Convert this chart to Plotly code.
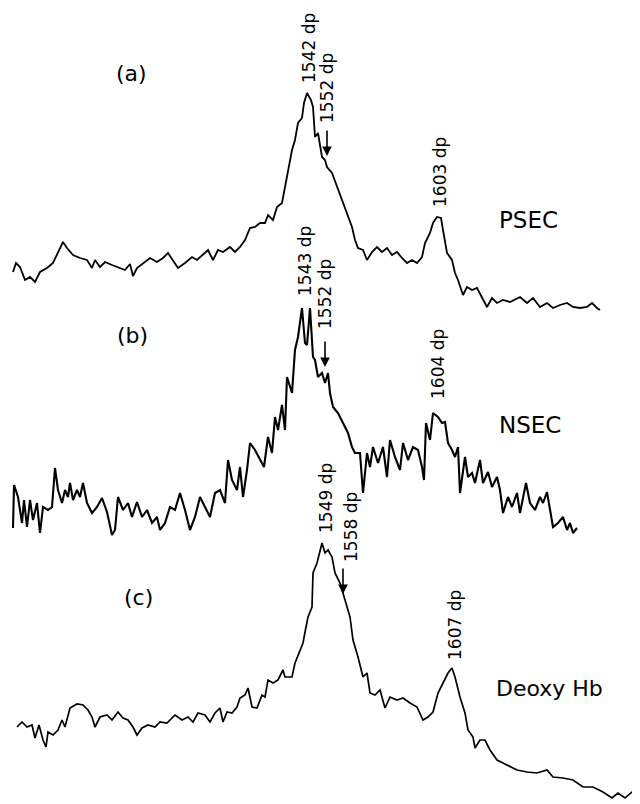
import plotly.graph_objects as go

# Trace (a) PSEC: horizontal position, vertical position (page units, top = 0)
a_x = [13,16,20,25,30,35,40,47,53,58,63,67,73,80,87,92,95,100,105,112,118,125,130,133,137,143,150,157,163,168,173,178,185,192,197,203,208,213,218,223,230,235,240,245,250,255,260,265,268,273,277,282,285,288,292,295,298,302,304,307,311,313,315,318,322,325,327,332,337,342,347,352,355,358,363,367,372,377,382,387,392,397,402,407,412,417,422,425,430,433,437,441,443,447,452,455,458,463,467,472,477,482,487,492,497,503,510,520,527,533,540,547,553,560,567,573,580,587,592,597,600]
a_y = [272,263,267,280,277,282,272,268,263,252,242,248,255,258,260,268,260,267,262,265,267,270,264,276,268,263,258,262,258,253,260,268,263,257,260,255,250,260,250,252,247,252,247,240,228,227,223,223,215,220,207,203,187,173,150,140,123,118,103,93,100,107,137,133,157,160,167,173,187,200,213,227,240,248,250,260,252,247,252,248,255,252,258,263,260,263,257,243,233,223,217,218,230,253,260,273,280,295,287,290,288,298,307,298,303,300,302,297,303,298,307,303,308,305,303,307,308,307,303,308,310]

# Trace (b) NSEC
b_x = [13,14,18,22,24,27,30,33,37,40,43,48,52,55,58,62,65,68,70,73,77,80,83,87,92,97,102,107,112,115,118,123,128,132,137,142,147,152,157,160,165,170,175,180,185,190,195,200,205,210,215,220,225,228,232,237,240,243,247,250,255,260,264,268,272,275,278,282,285,287,292,295,298,302,305,307,310,313,315,318,322,325,328,330,333,338,343,348,352,355,360,363,367,370,373,378,383,387,390,395,400,403,408,413,418,422,424,426,430,433,438,442,445,448,452,455,458,460,465,468,472,475,480,483,488,492,497,500,503,508,512,517,520,526,530,535,540,543,547,550,553,558,563,567,570,573,577]
b_y = [528,485,497,523,500,527,500,520,503,533,507,510,507,468,490,503,490,497,483,500,490,497,483,503,513,507,498,512,535,530,497,510,503,517,502,517,510,523,517,530,523,507,510,493,510,530,517,497,507,517,493,490,503,460,480,490,467,497,470,443,450,460,467,437,453,417,430,405,430,377,393,350,337,308,343,345,308,357,360,377,373,383,373,393,407,413,423,433,447,453,453,493,453,467,447,463,447,477,440,457,470,443,460,447,450,467,480,423,440,413,417,423,422,443,450,457,447,493,457,477,473,483,460,483,472,487,477,490,513,497,507,493,513,483,503,510,497,503,492,510,527,523,517,530,523,533,528]

# Trace (c) Deoxy Hb
c_x = [17,22,27,32,35,39,43,46,48,53,58,62,65,70,77,83,88,92,95,100,107,112,118,123,128,133,137,142,148,155,160,167,175,182,188,193,198,205,210,215,220,223,227,232,237,240,245,248,252,257,262,265,268,273,278,283,285,292,295,300,303,306,308,312,313,317,322,325,328,332,335,340,345,350,353,358,363,367,370,375,380,385,390,397,403,410,417,423,428,433,438,443,448,452,455,460,465,468,473,475,480,485,490,497,503,510,517,527,537,547,553,563,573,583,593,603,612,618,625,632,637]
c_y = [727,722,727,725,738,725,740,747,732,735,730,720,727,708,704,705,710,717,727,717,715,720,712,718,720,727,735,728,725,727,722,723,715,720,717,722,713,715,722,713,708,722,712,713,707,698,695,688,707,708,695,697,680,683,680,670,677,677,663,650,643,627,617,607,573,563,543,553,550,557,573,583,600,617,640,657,677,673,693,695,690,708,697,700,698,703,707,720,717,712,693,683,673,668,677,697,713,730,737,748,740,740,750,760,763,767,770,772,773,770,777,778,780,787,787,792,798,793,798,792,800]

# Vertical band labels: text, x, y (centre)
band_text = ["1542 dp", "1552 dp", "1603 dp", "1543 dp", "1552 dp", "1604 dp", "1549 dp", "1558 dp", "1607 dp"]
band_x = [309, 327, 440, 305, 325, 438, 326, 351, 455]
band_y = [48, 88, 172, 261, 294, 364, 498, 527, 625]

# Arrows: tip x, tip y
arrow_x = [327, 325, 343]
arrow_y = [156, 367, 594]

# Panel letters and sample names
panel_text = ["(a)", "(b)", "(c)"]
panel_x = [131, 132, 138]
panel_y = [73, 335, 597]
name_text = ["PSEC", "NSEC", "Deoxy Hb"]
name_x = [528, 530, 549]
name_y = [220, 425, 688]
name_size = [23, 23, 22]

FONT = "DejaVu Sans"
fig = go.Figure()
for xs, ys, w in [(a_x, a_y, 1.8), (b_x, b_y, 2.1), (c_x, c_y, 1.7)]:
    fig.add_trace(go.Scatter(x=xs, y=ys, mode="lines",
                             line=dict(color="black", width=w),
                             showlegend=False, hoverinfo="skip"))

ann = []
for t, x, y in zip(band_text, band_x, band_y):
    ann.append(dict(x=x, y=y, text=t, textangle=-90, showarrow=False,
                    xanchor="center", yanchor="middle",
                    font=dict(family=FONT, size=17, color="black")))
for x, y in zip(arrow_x, arrow_y):
    ann.append(dict(x=x, y=y, text="", showarrow=True, arrowhead=2,
                    arrowsize=1.2, arrowwidth=1.6, arrowcolor="black",
                    ax=0, ay=-27))
for t, x, y in zip(panel_text, panel_x, panel_y):
    ann.append(dict(x=x, y=y, text=t, showarrow=False,
                    xanchor="center", yanchor="middle",
                    font=dict(family=FONT, size=22, color="black")))
for t, x, y, s in zip(name_text, name_x, name_y, name_size):
    ann.append(dict(x=x, y=y, text=t, showarrow=False,
                    xanchor="center", yanchor="middle",
                    font=dict(family=FONT, size=s, color="black")))

# The page body has an 8px margin, so the plot starts at (8, 8)
fig.update_layout(
    width=632, height=796,
    margin=dict(l=0, r=0, t=0, b=0),
    paper_bgcolor="white", plot_bgcolor="white",
    xaxis=dict(range=[8, 640], visible=False),
    yaxis=dict(range=[804, 8], visible=False),
    annotations=ann,
)
fig.write_html("out.html")
